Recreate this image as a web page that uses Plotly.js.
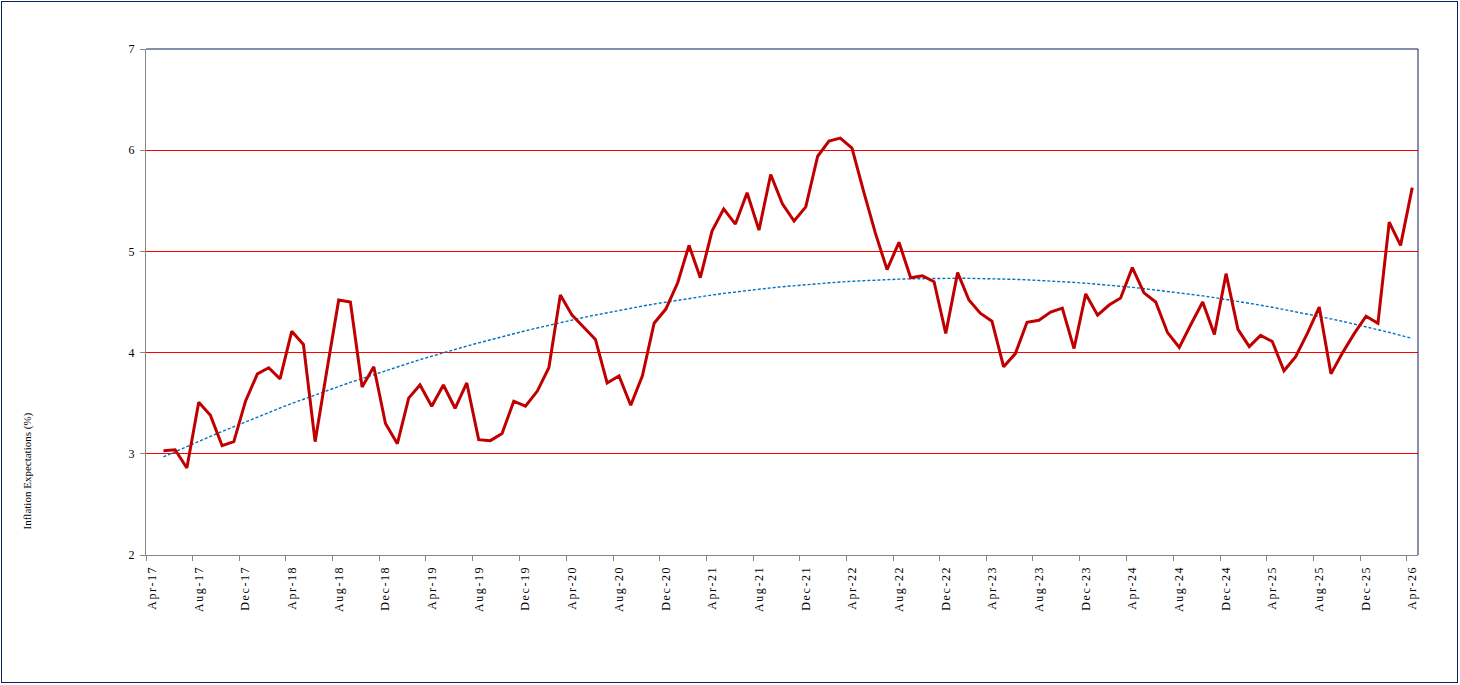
<!DOCTYPE html>
<html>
<head>
<meta charset="utf-8">
<script src="https://cdn.plot.ly/plotly-3.0.1.min.js"></script>
<style>
  html, body { margin: 0; padding: 0; background: #fff; }
  #wrap { position: relative; width: 1460px; height: 685px; }
  #chart { position: absolute; left: 0; top: 0; width: 1460px; height: 685px; }
  #frame { position: absolute; left: 1px; top: 1px; width: 1455px; height: 680px;
           border: 1px solid #0C2157; pointer-events: none; }
  .xtick text { letter-spacing: 1.6px; }
</style>
</head>
<body>
<div id="wrap">
  <div id="chart"></div>
  <div id="frame"></div>
</div>
<script>
// Monthly observations, May-17 .. Apr-26
const startYear = 2017, startMonth = 5, nMonths = 108;
const months = [];
for (let k = 0; k < nMonths; k++) {
  const m = startMonth - 1 + k;
  const y = startYear + Math.floor(m / 12);
  const mm = (m % 12) + 1;
  months.push(y + '-' + (mm < 10 ? '0' : '') + mm);
}

const inflationExpectations = [
  3.03, 3.04, 2.86, 3.51, 3.38, 3.08, 3.12, 3.52, 3.79, 3.85,
  3.74, 4.21, 4.08, 3.12, 3.82, 4.52, 4.50, 3.66, 3.86, 3.30,
  3.10, 3.55, 3.68, 3.47, 3.68, 3.45, 3.70, 3.14, 3.13, 3.20,
  3.52, 3.47, 3.62, 3.85, 4.57, 4.37, 4.25, 4.13, 3.70, 3.77,
  3.48, 3.77, 4.29, 4.43, 4.69, 5.06, 4.74, 5.20, 5.42, 5.27,
  5.58, 5.21, 5.76, 5.47, 5.30, 5.44, 5.94, 6.09, 6.12, 6.02,
  5.59, 5.18, 4.82, 5.09, 4.74, 4.76, 4.70, 4.19, 4.79, 4.52,
  4.39, 4.31, 3.86, 3.99, 4.30, 4.32, 4.40, 4.44, 4.04, 4.58,
  4.37, 4.47, 4.54, 4.84, 4.59, 4.50, 4.20, 4.05, 4.28, 4.50,
  4.18, 4.78, 4.23, 4.06, 4.17, 4.11, 3.82, 3.96, 4.19, 4.45,
  3.79, 4.00, 4.19, 4.36, 4.29, 5.29, 5.06, 5.63
];

const yTickVals = [2, 3, 4, 5, 6, 7];
const yTitle = 'Inflation Expectations (%)';

// Polynomial (order 2) least-squares trendline, as in the source chart
function quadFit(ys) {
  const n = ys.length;
  let s0 = 0, s1 = 0, s2 = 0, s3 = 0, s4 = 0, t0 = 0, t1 = 0, t2 = 0;
  for (let i = 0; i < n; i++) {
    const x = i + 1, y = ys[i];
    s0 += 1; s1 += x; s2 += x * x; s3 += x * x * x; s4 += x * x * x * x;
    t0 += y; t1 += x * y; t2 += x * x * y;
  }
  const A = [[s0, s1, s2, t0], [s1, s2, s3, t1], [s2, s3, s4, t2]];
  for (let c = 0; c < 3; c++) {
    for (let r = c + 1; r < 3; r++) {
      const f = A[r][c] / A[c][c];
      for (let k = c; k < 4; k++) A[r][k] -= f * A[c][k];
    }
  }
  const b = [0, 0, 0];
  for (let r = 2; r >= 0; r--) {
    let s = A[r][3];
    for (let k = r + 1; k < 3; k++) s -= A[r][k] * b[k];
    b[r] = s / A[r][r];
  }
  return ys.map((_, i) => b[0] + b[1] * (i + 1) + b[2] * (i + 1) * (i + 1));
}
const trend = quadFit(inflationExpectations);

const serif = 'Liberation Serif, Times New Roman, serif';

const traces = [
  {
    x: months, y: trend, type: 'scatter', mode: 'lines',
    xperiod: 'M1', xperiodalignment: 'middle',
    line: { color: '#0070C0', width: 1.4, dash: '3px,2px' },
    hoverinfo: 'skip', showlegend: false
  },
  {
    x: months, y: inflationExpectations, type: 'scatter', mode: 'lines',
    xperiod: 'M1', xperiodalignment: 'middle',
    line: { color: '#C00000', width: 3 },
    showlegend: false
  }
];

const layout = {
  width: 1460, height: 685,
  margin: { l: 146, r: 42, t: 49, b: 130, pad: 0 },
  paper_bgcolor: '#ffffff', plot_bgcolor: '#ffffff',
  showlegend: false,
  xaxis: {
    type: 'date',
    range: ['2017-04-01', '2026-05-01'],
    tick0: '2017-04-01', dtick: 'M4', tickformat: '%b-%y',
    tickangle: -90,
    ticklabelshift: 6,
    ticks: 'outside', ticklen: 5, tickwidth: 1, tickcolor: '#868686',
    showline: true, linecolor: '#868686', linewidth: 1,
    showgrid: false, zeroline: false,
    tickfont: { family: serif, size: 12, color: '#000' }
  },
  yaxis: {
    range: [2, 7],
    tickvals: yTickVals,
    ticks: 'outside', ticklen: 5, tickwidth: 1, tickcolor: '#868686',
    showline: true, linecolor: '#868686', linewidth: 1,
    showgrid: true, gridcolor: '#FF0000', gridwidth: 1,
    zeroline: false,
    ticklabelstandoff: 3,
    tickfont: { family: serif, size: 12, color: '#000' }
  },
  shapes: [
    { type: 'line', xref: 'paper', yref: 'paper', x0: 0, x1: 1, y0: 1, y1: 1,
      line: { color: '#0C2157', width: 1 }, layer: 'above' },
    { type: 'line', xref: 'paper', yref: 'paper', x0: 1, x1: 1, y0: 0, y1: 1,
      line: { color: '#0C2157', width: 1 }, layer: 'above' }
  ],
  annotations: [
    { text: yTitle, xref: 'paper', yref: 'paper',
      x: -0.0928, y: 0.167, xanchor: 'center', yanchor: 'middle',
      textangle: -90, showarrow: false,
      font: { family: serif, size: 11, color: '#000' } }
  ]
};

Plotly.newPlot('chart', traces, layout, { displayModeBar: false, staticPlot: true });
</script>
</body>
</html>
